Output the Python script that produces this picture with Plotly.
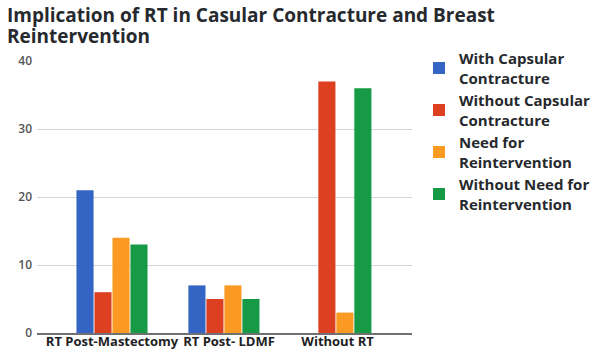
import plotly.graph_objects as go

categories = ["RT Post-Mastectomy", "RT Post- LDMF", "Without RT"]
tick_labels = ["RT Post-Mastectomy", "\u00a0\u00a0\u00a0RT Post- LDMF", "\u00a0Without RT"]
series_names = ["With Capsular<br>Contracture", "Without Capsular<br>Contracture",
                "Need for<br>Reintervention", "Without Need for<br>Reintervention"]
with_cc = [21, 7, 0]
without_cc = [6, 5, 37]
need_reint = [14, 7, 3]
without_need_reint = [13, 5, 36]
y_ticks = [0, 10, 20, 30, 40]
colors = ["#3565c4", "#dd4020", "#fb9a22", "#179a45"]

series_values = [with_cc, without_cc, need_reint, without_need_reint]

fig = go.Figure()
for name, vals, col in zip(series_names, series_values, colors):
    fig.add_trace(go.Bar(x=categories, y=vals, name=name, marker=dict(color=col, line=dict(width=0))))

FONT = "Open Sans"
T, B = 61, 19
PH = 352 - T - B


def py(pix):
    return (352 - B - pix) / PH


fig.update_layout(
    width=600, height=352,
    margin=dict(l=37, r=188, t=T, b=B, autoexpand=False),
    paper_bgcolor="white", plot_bgcolor="white",
    barmode="group", bargap=0.357, bargroupgap=0.05,
    showlegend=True,
    legend=dict(
        xref="container", yref="container", x=419 / 600, y=1 - 42 / 352,
        xanchor="left", yanchor="top", maxheight=320,
        font=dict(family=FONT, size=15, color="#26292d", weight=700),
        bgcolor="rgba(0,0,0,0)", tracegroupgap=0, itemwidth=30,
    ),
    font=dict(family=FONT),
    annotations=[
        dict(text="Implication of RT in Casular Contracture and Breast", xref="paper", yref="paper",
             x=(5 - 37) / 375, y=py(0), xanchor="left", yanchor="top", showarrow=False,
             font=dict(family=FONT, size=19, color="#26292d", weight=700)),
        dict(text="Reintervention", xref="paper", yref="paper",
             x=(5 - 37) / 375, y=py(21), xanchor="left", yanchor="top", showarrow=False,
             font=dict(family=FONT, size=19, color="#26292d", weight=700)),
    ],
)
fig.update_xaxes(
    range=[-0.67, 2.68], showgrid=False, showline=True, linecolor="#707070", linewidth=2,
    ticks="", tickangle=0, automargin=False,
    tickvals=categories, ticktext=tick_labels,
    tickfont=dict(family=FONT, size=13, color="#1e2124", weight=700), ticklabelstandoff=-5,
)
fig.update_yaxes(
    range=[0, 40], tickvals=y_ticks, showgrid=True, gridcolor="#d4d4d4", gridwidth=1,
    zeroline=False, showline=False, ticks="", automargin=False,
    tickfont=dict(family=FONT, size=12, color="#555555", weight=600), ticklabelstandoff=4,
)

fig.write_html("out.html")
